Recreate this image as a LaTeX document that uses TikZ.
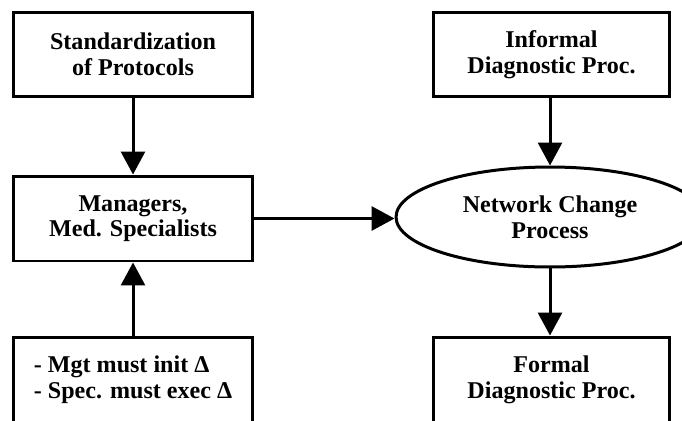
\documentclass[tikz,border=0pt]{standalone}
\usepackage{fontspec}
\setmainfont{Liberation Serif}
\usetikzlibrary{arrows.meta,shapes.geometric}
\tikzset{
  blk/.style={draw, line width=0.06cm, minimum width=4.8cm, minimum height=1.7cm, inner sep=0pt, align=center, font=\fontsize{13.7}{14.6}\selectfont\bfseries},
  proc/.style={blk, ellipse, minimum width=6.16cm, minimum height=2cm},
  flow/.style={line width=0.06cm, -{Triangle[length=0.46cm, width=0.48cm]}}
}
\begin{document}
\begin{tikzpicture}[x=0.02cm, y=-0.02cm]
	\clip (0,0) rectangle (682,420);
	\node[blk] (stdprot) at (133,54.5) {Standardization\\of Protocols};
	\node[blk] (mgrs) at (133,218.5) {Managers,\\Med. Specialists};
	\node[blk, align=left] (must) at (133,379.5) {- Mgt must init Δ\\- Spec. must exec Δ};
	\node[blk, minimum width=4.72cm] (informal) at (551.5,54.5) {Informal\\Diagnostic Proc.};
	\node[proc] (netchg) at (550,217) {Network Change\\Process};
	\node[blk, minimum width=4.72cm] (formal) at (551.5,379.5) {Formal\\Diagnostic Proc.};
	\draw[flow] (stdprot) -- (mgrs);
	\draw[flow] (must) -- (mgrs);
	\draw[flow] (mgrs.east) -- (netchg.west |- mgrs.east);
	\draw[flow] (informal.south -| netchg.north) -- (netchg.north);
	\draw[flow] (netchg.south) -- (formal.north -| netchg.south);
\end{tikzpicture}
\end{document}
